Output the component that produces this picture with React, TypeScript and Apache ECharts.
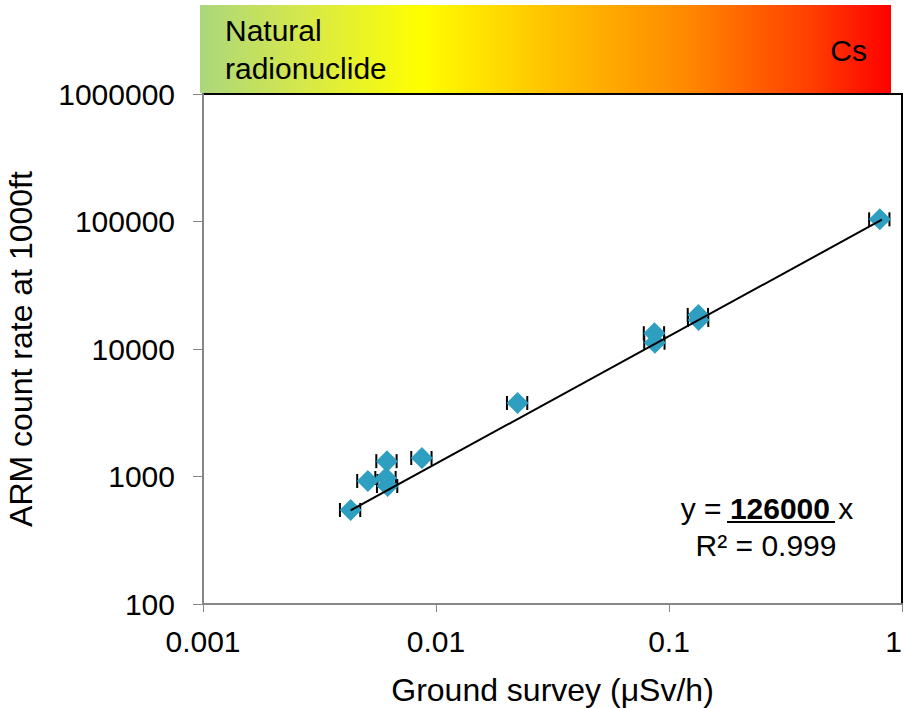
import React, { useEffect, useRef } from "react";
import * as echarts from "echarts";

// ---- data ----
const groundSurvey = [0.0043, 0.0051, 0.00616, 0.0061, 0.0062, 0.0087, 0.0224, 0.0866, 0.087, 0.1337, 0.134, 0.803];
const armCount = [546, 922, 1320, 973, 842, 1397, 3770, 13300, 11200, 18500, 16900, 104000];
const errorFraction = 0.1;
const fitSlope = 126000;
const fitXRange = [0.0043, 0.82];
const xTickLabels = ["0.001", "0.01", "0.1", "1"];
const yTickLabels = ["100", "1000", "10000", "100000", "1000000"];
const xTitle = "Ground survey (\u03bcSv/h)";
const yTitle = "ARM count rate at 1000ft";
const bandLeftText = ["Natural", "radionuclide"];
const bandRightText = "Cs";
const eqSlopeText = "126000";
const r2Text = "R\u00b2 = 0.999";

const FONT = "Liberation Sans, Arial, sans-serif";
const POINT_COLOR = "#2E9FC0";

export default function App() {
  const ref = useRef<HTMLDivElement>(null);

  useEffect(() => {
    if (!ref.current) return;
    const chart = echarts.init(ref.current, undefined, { renderer: "svg" });

    const points = groundSurvey.map((x, i) => [x, armCount[i]]);
    const errData = groundSurvey.map((x, i) => [
      x,
      armCount[i],
      x * (1 - errorFraction),
      x * (1 + errorFraction),
    ]);
    const fitData = fitXRange.map((x) => [x, fitSlope * x]);

    const xLabel = (v: number) => {
      const idx = Math.round(Math.log10(v)) + 3;
      return xTickLabels[idx] ?? "";
    };
    const yLabel = (v: number) => {
      const idx = Math.round(Math.log10(v)) - 2;
      return yTickLabels[idx] ?? "";
    };

    chart.setOption({
      animation: false,
      backgroundColor: "#ffffff",
      textStyle: { fontFamily: FONT },
      grid: {
        left: 203,
        top: 94,
        right: 2,
        bottom: 104,
        outerBoundsMode: "none",
        containLabel: false,
        show: true,
        borderColor: "#000000",
        borderWidth: 2,
        backgroundColor: "transparent",
      },
      xAxis: {
        type: "log",
        logBase: 10,
        min: 0.001,
        max: 1,
        name: xTitle,
        nameLocation: "middle",
        nameGap: 70,
        nameTextStyle: { fontSize: 32, color: "#000", fontFamily: FONT },
        axisLine: { show: true, lineStyle: { color: "#868686", width: 2 } },
        axisTick: { show: true, inside: false, length: 8, lineStyle: { color: "#868686", width: 1 } },
        axisLabel: {
          formatter: xLabel,
          fontSize: 30,
          color: "#000",
          margin: 22,
          fontFamily: FONT,
          hideOverlap: false,
          alignMaxLabel: "right",
        },
        splitLine: { show: false },
        minorTick: { show: false },
      },
      yAxis: {
        type: "log",
        logBase: 10,
        min: 100,
        max: 1000000,
        name: yTitle,
        nameLocation: "middle",
        nameGap: 166,
        nameRotate: 90,
        nameTextStyle: { fontSize: 32, color: "#000", fontFamily: FONT },
        axisLine: { show: true, lineStyle: { color: "#868686", width: 2 } },
        axisTick: { show: true, inside: false, length: 10, lineStyle: { color: "#868686", width: 1 } },
        axisLabel: { formatter: yLabel, fontSize: 30, color: "#000", margin: 28, fontFamily: FONT },
        splitLine: { show: false },
        minorTick: { show: false },
      },
      series: [
        {
          type: "custom",
          name: "error",
          z: 2,
          data: errData,
          renderItem: (params: any, api: any) => {
            const y = api.value(1);
            const lo = api.coord([api.value(2), y]);
            const hi = api.coord([api.value(3), y]);
            const cap = 7;
            const style = { stroke: "#000", lineWidth: 2 };
            return {
              type: "group",
              children: [
                { type: "line", shape: { x1: lo[0], y1: lo[1], x2: hi[0], y2: hi[1] }, style },
                { type: "line", shape: { x1: lo[0], y1: lo[1] - cap, x2: lo[0], y2: lo[1] + cap }, style },
                { type: "line", shape: { x1: hi[0], y1: hi[1] - cap, x2: hi[0], y2: hi[1] + cap }, style },
              ],
            };
          },
        },
        {
          type: "scatter",
          name: "points",
          z: 3,
          symbol: "diamond",
          symbolSize: 22,
          itemStyle: { color: POINT_COLOR, opacity: 1 },
          data: points,
        },
        {
          type: "line",
          name: "fit",
          z: 4,
          symbol: "none",
          lineStyle: { color: "#000", width: 2 },
          data: fitData,
        },
      ],
      graphic: [
        {
          type: "rect",
          shape: { x: 200, y: 5, width: 691, height: 88 },
          style: {
            fill: new echarts.graphic.LinearGradient(0, 0, 1, 0, [
              { offset: 0, color: "#ABD77C" },
              { offset: 0.15, color: "#D6E84A" },
              { offset: 0.32, color: "#FFFF00" },
              { offset: 0.5, color: "#FFC400" },
              { offset: 0.7, color: "#FF8A00" },
              { offset: 0.88, color: "#FF4000" },
              { offset: 1, color: "#FF0000" },
            ]),
          },
          z: 0,
        },
        {
          type: "text",
          x: 225,
          y: 30,
          style: { text: bandLeftText[0], font: `30px ${FONT}`, fill: "#000", verticalAlign: "middle" },
          z: 1,
        },
        {
          type: "text",
          x: 225,
          y: 68,
          style: { text: bandLeftText[1], font: `30px ${FONT}`, fill: "#000", verticalAlign: "middle" },
          z: 1,
        },
        {
          type: "text",
          x: 867,
          y: 50,
          style: { text: bandRightText, font: `30px ${FONT}`, fill: "#000", align: "right", verticalAlign: "middle" },
          z: 1,
        },
        {
          type: "text",
          x: 767,
          y: 508,
          style: {
            text: `{n|y = }{b|${eqSlopeText}}{n| x}`,
            align: "center",
            verticalAlign: "middle",
            rich: {
              n: { fontSize: 30, fontFamily: FONT, fill: "#000", color: "#000" },
              b: { fontSize: 30, fontFamily: FONT, fontWeight: "bold", fill: "#000", color: "#000" },
            },
          },
          z: 10,
        },
        {
          type: "line",
          shape: { x1: 727, y1: 522, x2: 835, y2: 522 },
          style: { stroke: "#000", lineWidth: 2 },
          z: 10,
        },
        {
          type: "text",
          x: 766,
          y: 545,
          style: { text: r2Text, font: `30px ${FONT}`, fill: "#000", align: "center", verticalAlign: "middle" },
          z: 10,
        },
      ],
    });

    return () => chart.dispose();
  }, []);

  return (
    <div
      ref={ref}
      style={{ position: "fixed", left: 0, top: 0, width: 904, height: 708, background: "#fff" }}
    />
  );
}
